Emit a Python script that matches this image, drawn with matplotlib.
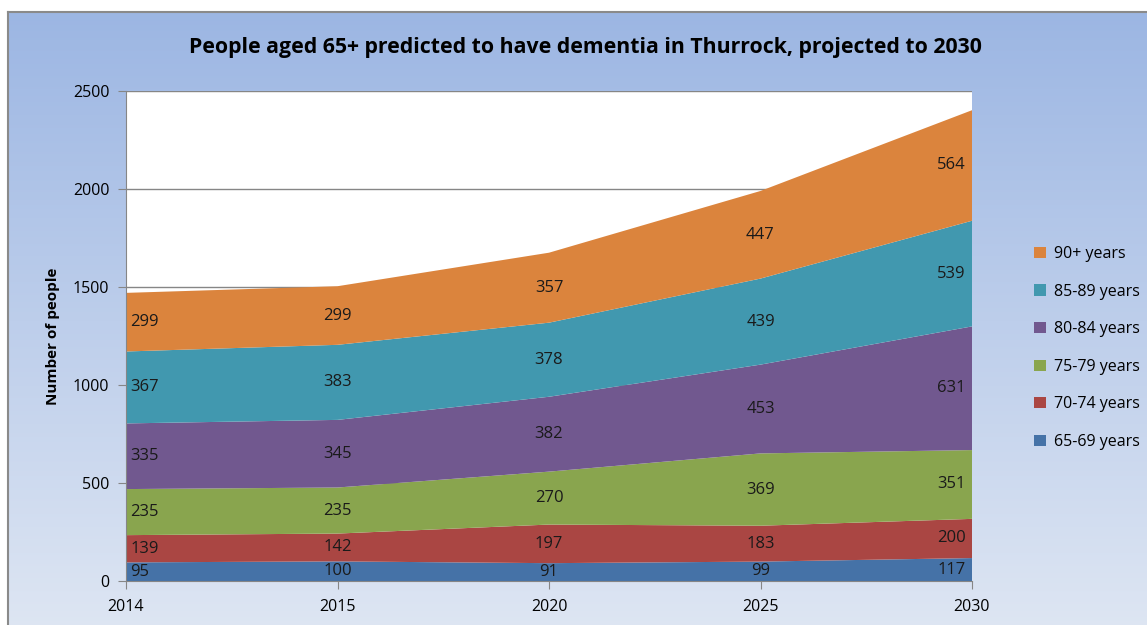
import numpy as np
import matplotlib.pyplot as plt

years = ['2014', '2015', '2020', '2025', '2030']
age_groups = ['65-69 years', '70-74 years', '75-79 years', '80-84 years', '85-89 years', '90+ years']
v_65_69 = [95, 100, 91, 99, 117]
v_70_74 = [139, 142, 197, 183, 200]
v_75_79 = [235, 235, 270, 369, 351]
v_80_84 = [335, 345, 382, 453, 631]
v_85_89 = [367, 383, 378, 439, 539]
v_90plus = [299, 299, 357, 447, 564]
colours = ['#4572A7', '#AA4643', '#89A54E', '#71588F', '#4198AF', '#DB843D']

series = [v_65_69, v_70_74, v_75_79, v_80_84, v_85_89, v_90plus]

plt.rcParams['font.family'] = ['Open Sans', 'DejaVu Sans']

fig = plt.figure(figsize=(11.47, 6.25), dpi=100)

# gradient background with grey frame
bg = fig.add_axes([8 / 1147, -0.01, 1 - 8 / 1147 + 0.01, 1 - 12 / 625 + 0.01])
grad = np.linspace(0, 1, 256).reshape(-1, 1)
top = np.array([0x9c, 0xb6, 0xe3]) / 255
bot = np.array([0xde, 0xe6, 0xf3]) / 255
img = top + (bot - top) * grad[:, :, None]
bg.imshow(img, aspect='auto', extent=[0, 1, 0, 1])
bg.set_xlim(0, 1)
bg.set_ylim(0, 1)
bg.set_xticks([])
bg.set_yticks([])
for s in bg.spines.values():
    s.set_color('#8a8a8a')
    s.set_linewidth(1.5)

ax = fig.add_axes([126 / 1147, 1 - 581 / 625, (972 - 126) / 1147, (581 - 91) / 625])
x = np.arange(len(years))
ax.stackplot(x, *series, colors=colours, labels=age_groups, zorder=2)

ax.set_xlim(0, len(years) - 1)
ax.set_ylim(0, 2500)
ax.set_yticks(range(0, 2501, 500))
ax.set_xticks(x)
ax.set_xticklabels(years)
ax.yaxis.grid(True, color='#868686', linewidth=1, zorder=0)
ax.set_axisbelow(True)
for side in ['top', 'right']:
    ax.spines[side].set_visible(False)
for side in ['left', 'bottom']:
    ax.spines[side].set_color('#868686')
ax.tick_params(axis='both', colors='#868686', labelcolor='black', labelsize=11.5, length=6)
ax.tick_params(axis='y', pad=6)
ax.tick_params(axis='x', pad=7)

ax.set_ylabel('Number of people', fontsize=11, fontweight='bold', labelpad=9)
fig.text(585 / 1147, 1 - 47 / 625, 'People aged 65+ predicted to have dementia in Thurrock, projected to 2030',
         ha='center', va='center', fontsize=15.3, fontweight='bold')

# data labels in the middle of each band
base = np.zeros(len(years))
for vals in series:
    vals = np.array(vals)
    mid = base + vals / 2
    for i, v in enumerate(vals):
        if i == 0:
            xi, ha = 0.02, 'left'
        elif i == len(years) - 1:
            xi, ha = len(years) - 1 - 0.03, 'right'
        else:
            xi, ha = i, 'center'
        ax.text(xi, mid[i], str(v), ha=ha, va='center', fontsize=12, color='#1a1a1a', zorder=3)
    base = base + vals

handles, labels = ax.get_legend_handles_labels()
leg = fig.legend(handles[::-1], labels[::-1], loc='center left', bbox_to_anchor=(1020 / 1147, 1 - 348 / 625),
                 frameon=False, fontsize=11.5, handlelength=0.7, handleheight=0.7,
                 labelspacing=1.35, handletextpad=0.5)

fig.savefig('out.png', dpi=100)
